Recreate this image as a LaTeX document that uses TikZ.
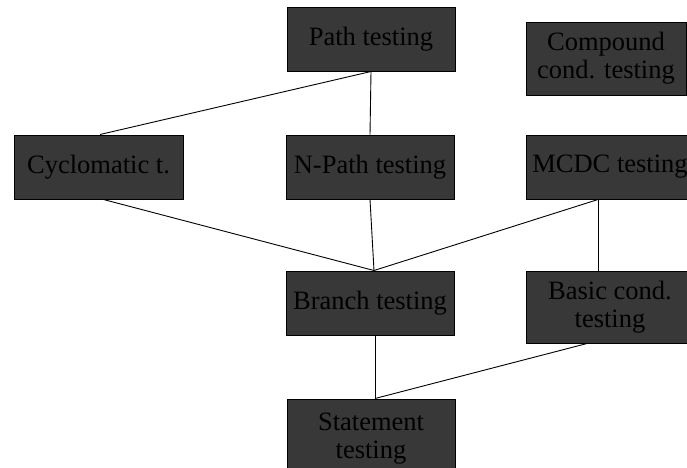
\documentclass[tikz,border=0pt]{standalone}
\usepackage{fontspec}
\setmainfont{Liberation Serif}
\usetikzlibrary{calc}
\definecolor{boxfill}{RGB}{56,56,56}
\begin{document}
\begin{tikzpicture}[x=1pt,y=1pt,
  testbox/.style={draw=black, line width=1pt, fill=boxfill, text=black,
    inner sep=0pt, align=center, minimum width=168pt, minimum height=64pt,
    font=\fontsize{26.5}{28}\selectfont},
  link/.style={draw=black, line width=0.9pt}]
\useasboundingbox (0,0) rectangle (687,-467);
\clip (0,0) rectangle (687,-467);

% boxes
\node[testbox] (path)     at (371,-39)    {Path testing};
\node[testbox, minimum width=160pt, minimum height=73pt] (compound) at (606,-58.5) {Compound\\cond. testing};
\node[testbox, minimum width=169pt] (cyc) at (98.5,-167) {Cyclomatic t.};
\node[testbox] (npath)    at (370,-167)   {N-Path testing};
\node[testbox] (mcdc)     at (610,-167)   {MCDC testing};
\node[testbox] (branch)   at (370,-303)   {Branch testing};
\node[testbox, minimum height=72pt] (basic) at (610,-307) {Basic cond.\\testing};
% runs past the lower edge of the picture
\node[testbox, minimum height=102pt] (statement) at (371,-450) {Statement\\testing\\\mbox{}};

% connectors
\draw[link] (path.south) -- ([xshift=1.5pt]cyc.north);
\draw[link] (path.south) -- (npath.north);
\draw[link] ([xshift=5pt]cyc.south) -- ([xshift=4pt]branch.north);
\draw[link] (npath.south) -- ([xshift=4pt]branch.north);
\draw[link] ([xshift=-12pt]mcdc.south) -- ([xshift=4pt]branch.north);
\draw[link] ([xshift=-12pt]mcdc.south) -- ([xshift=-12pt]basic.north);
\draw[link] ([xshift=5pt]branch.south) -- ([xshift=4pt]statement.north);
\draw[link] ([xshift=-23pt]basic.south) -- ([xshift=4pt]statement.north);
\end{tikzpicture}
\end{document}
